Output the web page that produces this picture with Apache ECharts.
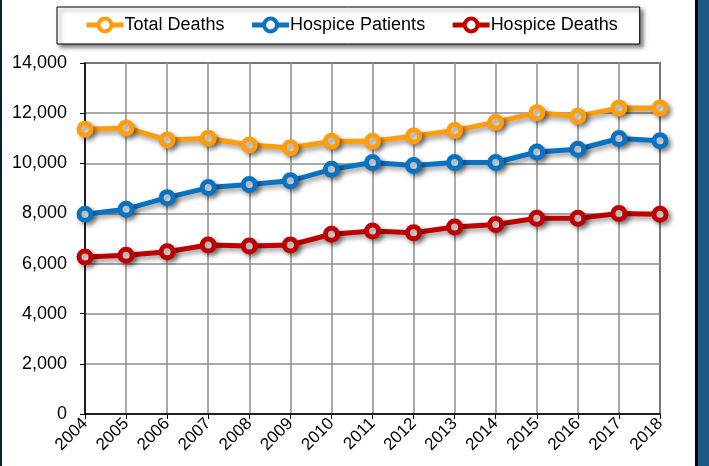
<!DOCTYPE html>
<html>
<head>
<meta charset="utf-8">
<script src="https://cdn.jsdelivr.net/npm/echarts@6/dist/echarts.min.js"></script>
<style>
  html, body { margin: 0; padding: 0; background: #fff; }
  #chart { width: 709px; height: 466px; }
</style>
</head>
<body>
<div id="chart"></div>
<script>
// data
const years = ["2004", "2005", "2006", "2007", "2008", "2009", "2010", "2011", "2012", "2013", "2014", "2015", "2016", "2017", "2018"];
const totalDeaths = [11360, 11410, 10930, 11000, 10730, 10620, 10880, 10880, 11090, 11310, 11640, 12020, 11880, 12210, 12210];
const hospicePatients = [7970, 8170, 8630, 9030, 9150, 9300, 9760, 10030, 9910, 10030, 10030, 10450, 10560, 10990, 10900];
const hospiceDeaths = [6260, 6330, 6470, 6740, 6700, 6740, 7170, 7300, 7230, 7460, 7560, 7810, 7810, 8000, 7970];

const chart = echarts.init(document.getElementById("chart"));

const shadow = {
  shadowColor: "rgba(0,0,0,0.4)",
  shadowBlur: 5,
  shadowOffsetX: 3,
  shadowOffsetY: 3,
};

const makeSeries = (name, data, color) => ({
  name: name,
  type: "line",
  data: data,
  symbol: "circle",
  symbolSize: 12,
  color: color,
  lineStyle: { color: color, width: 5, ...shadow },
  itemStyle: { color: "#fff", borderColor: color, borderWidth: 5, ...shadow },
  emphasis: { disabled: true },
  animation: false,
});

const option = {
  backgroundColor: "#fff",
  textStyle: { fontFamily: "Liberation Sans, Arial, sans-serif" },
  // frame pieces on the left and right edges
  graphic: [
    { type: "rect", left: 0, top: 0, shape: { width: 2, height: 466 }, style: { fill: "#0d1e2e" } },
    { type: "rect", left: 695, top: 0, shape: { width: 3, height: 466 }, style: { fill: "#000" } },
    { type: "rect", left: 698, top: 0, shape: { width: 11, height: 466 }, style: { fill: "#1b5a87" } },
  ],
  legend: {
    left: 57,
    top: 7,
    padding: [9, 22, 10, 27],
    itemGap: 25,
    itemWidth: 37,
    itemHeight: 16,
    backgroundColor: "#fff",
    borderColor: "#000",
    borderWidth: 1,
    shadowColor: "rgba(0,0,0,0.5)",
    shadowBlur: 4,
    shadowOffsetX: 3,
    shadowOffsetY: 3,
    lineStyle: { width: 5 },
    itemStyle: { borderWidth: 4 },
    textStyle: { fontSize: 18, color: "#000", padding: [0, 0, 0, -4] },
    data: ["Total Deaths", "Hospice Patients", "Hospice Deaths"],
  },
  grid: {
    left: 85,
    right: 49,
    top: 63,
    bottom: 52,
    show: true,
    borderColor: "#000",
    borderWidth: 1.5,
  },
  xAxis: {
    type: "category",
    data: years,
    boundaryGap: false,
    axisLine: { lineStyle: { color: "#000", width: 1.5 } },
    axisTick: { show: true, length: 5, lineStyle: { color: "#000" } },
    axisLabel: { color: "#000", fontSize: 17, rotate: 45, margin: 7, interval: 0 },
    splitLine: { show: true, lineStyle: { color: "#8c8c8c", width: 1.5 } },
  },
  yAxis: {
    type: "value",
    min: 0,
    max: 14000,
    interval: 2000,
    axisLine: { show: true, lineStyle: { color: "#000", width: 1.5 } },
    axisTick: { show: true, length: 5, lineStyle: { color: "#000" } },
    axisLabel: {
      color: "#000",
      fontSize: 18,
      margin: 18,
      formatter: (v) => v.toLocaleString("en-US"),
    },
    splitLine: { show: true, lineStyle: { color: "#8c8c8c", width: 1.5 } },
  },
  series: [
    makeSeries("Total Deaths", totalDeaths, "#ff9e0c"),
    makeSeries("Hospice Patients", hospicePatients, "#0a72c2"),
    makeSeries("Hospice Deaths", hospiceDeaths, "#c00000"),
  ],
};

chart.setOption(option);
</script>
</body>
</html>
